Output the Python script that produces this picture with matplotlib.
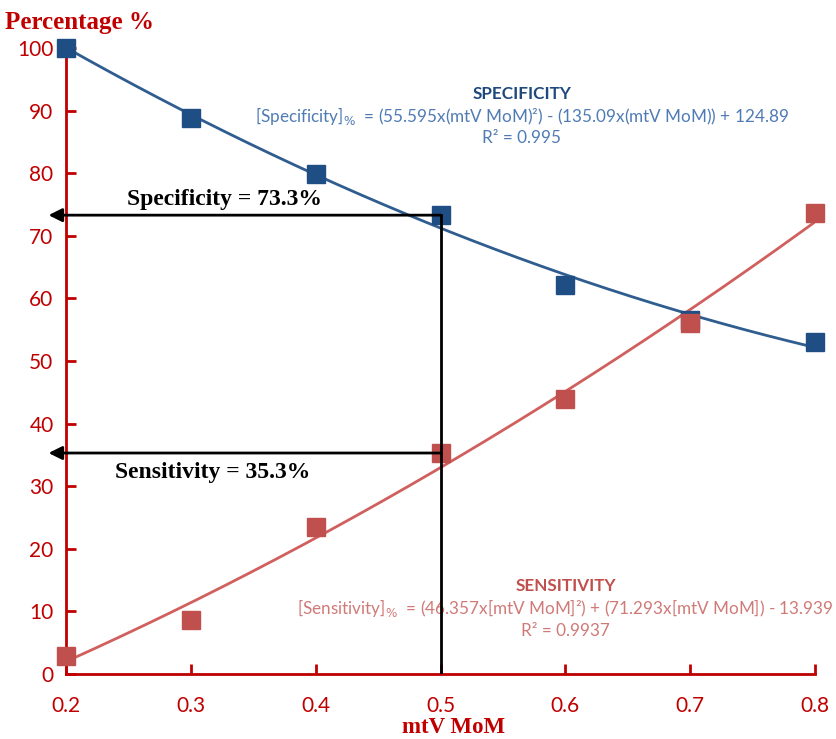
import numpy as np
import matplotlib
matplotlib.use("Agg")
import matplotlib.pyplot as plt

# values
mtv_mom = [0.2, 0.3, 0.4, 0.5, 0.6, 0.7, 0.8]
specificity = [100.0, 88.9, 79.9, 73.3, 62.2, 56.5, 53.0]
sensitivity = [2.8, 8.6, 23.4, 35.3, 44.0, 56.0, 73.6]
cutoff = 0.5
spec_at_cut = 73.3
sens_at_cut = 35.3

dark_red = '#C00000'
blue_pt = '#1F4E85'
blue_ln = '#2F5D8F'
red_pt = '#C0504D'
red_ln = '#D0605E'

fig = plt.figure(figsize=(8.36, 7.39), dpi=100)
ax = fig.add_axes([0.079, 0.088, 0.896, 0.847])

# quadratic trend lines, fitted from the points
xs = np.linspace(0.2, 0.8, 200)
spec_fit = np.polyfit(mtv_mom, specificity, 2)
sens_fit = np.polyfit(mtv_mom, sensitivity, 2)
ax.plot(xs, np.polyval(spec_fit, xs), color=blue_ln, lw=2, zorder=2)
ax.plot(xs, np.polyval(sens_fit, xs), color=red_ln, lw=2, zorder=2)

ax.plot(mtv_mom, specificity, 's', color=blue_pt, ms=13, clip_on=False, zorder=3)
ax.plot(mtv_mom, sensitivity, 's', color=red_pt, ms=13, clip_on=False, zorder=3)

# cut-off construction lines
ax.plot([cutoff, cutoff], [0, spec_at_cut], color='black', lw=2, zorder=4)
for yv in (spec_at_cut, sens_at_cut):
    ax.annotate('', xy=(0.186, yv), xytext=(cutoff, yv), annotation_clip=False,
                arrowprops=dict(arrowstyle='-|>', color='black', lw=2,
                                mutation_scale=20, shrinkA=0, shrinkB=0), zorder=4)

ax.text(0.249, 75.8, 'Specificity = 73.3%', family='Liberation Serif',
        weight='bold', fontsize=17, va='center', ha='left')
ax.text(0.239, 32.2, 'Sensitivity = 35.3%', family='Liberation Serif',
        weight='bold', fontsize=17, va='center', ha='left')

eq_fs = 12.3
ax.text(0.565, 92.6, 'SPECIFICITY', color='#1F497D', weight='bold',
        family='Lato', fontsize=eq_fs, ha='center', va='center')
ax.text(0.565, 89.2, '[Specificity]$_{\\%}$  = (55.595x(mtV MoM)²) - (135.09x(mtV MoM)) + 124.89',
        color='#4F7BB5', family='Lato', fontsize=eq_fs, ha='center', va='center')
ax.text(0.565, 85.7, 'R² = 0.995', color='#4F7BB5', family='Lato',
        fontsize=eq_fs, ha='center', va='center')

ax.text(0.6, 14.0, 'SENSITIVITY', color='#C0504D', weight='bold',
        family='Lato', fontsize=eq_fs, ha='center', va='center')
ax.text(0.6, 10.6, '[Sensitivity]$_{\\%}$  = (46.357x[mtV MoM]²) + (71.293x[mtV MoM]) - 13.939',
        color='#D07A78', family='Lato', fontsize=eq_fs, ha='center', va='center')
ax.text(0.6, 6.9, 'R² = 0.9937', color='#D07A78', family='Lato',
        fontsize=eq_fs, ha='center', va='center')

ax.set_xlim(0.2, 0.8)
ax.set_ylim(0, 100)
ax.set_xticks(mtv_mom)
ax.set_xticklabels(['0.2', '0.3', '0.4', '0.5', '0.6', '0.7', '0.8'])
ax.set_yticks(range(0, 101, 10))

for side in ('top', 'right'):
    ax.spines[side].set_visible(False)
for side in ('left', 'bottom'):
    ax.spines[side].set_color(dark_red)
    ax.spines[side].set_linewidth(2)
ax.tick_params(direction='in', colors=dark_red, width=2, length=7,
               labelsize=15, pad=9)
ax.tick_params(axis='x', pad=16)
for lab in ax.get_xticklabels() + ax.get_yticklabels():
    lab.set_family('Lato')

fig.text(0.006, 0.97, 'Percentage %', color=dark_red, family='Liberation Serif',
         weight='bold', fontsize=18, ha='left', va='center')
fig.text(0.542, 0.016, 'mtV MoM', color=dark_red, family='Liberation Serif',
         weight='bold', fontsize=16.5, ha='center', va='center')

fig.savefig('out.png', dpi=100)
